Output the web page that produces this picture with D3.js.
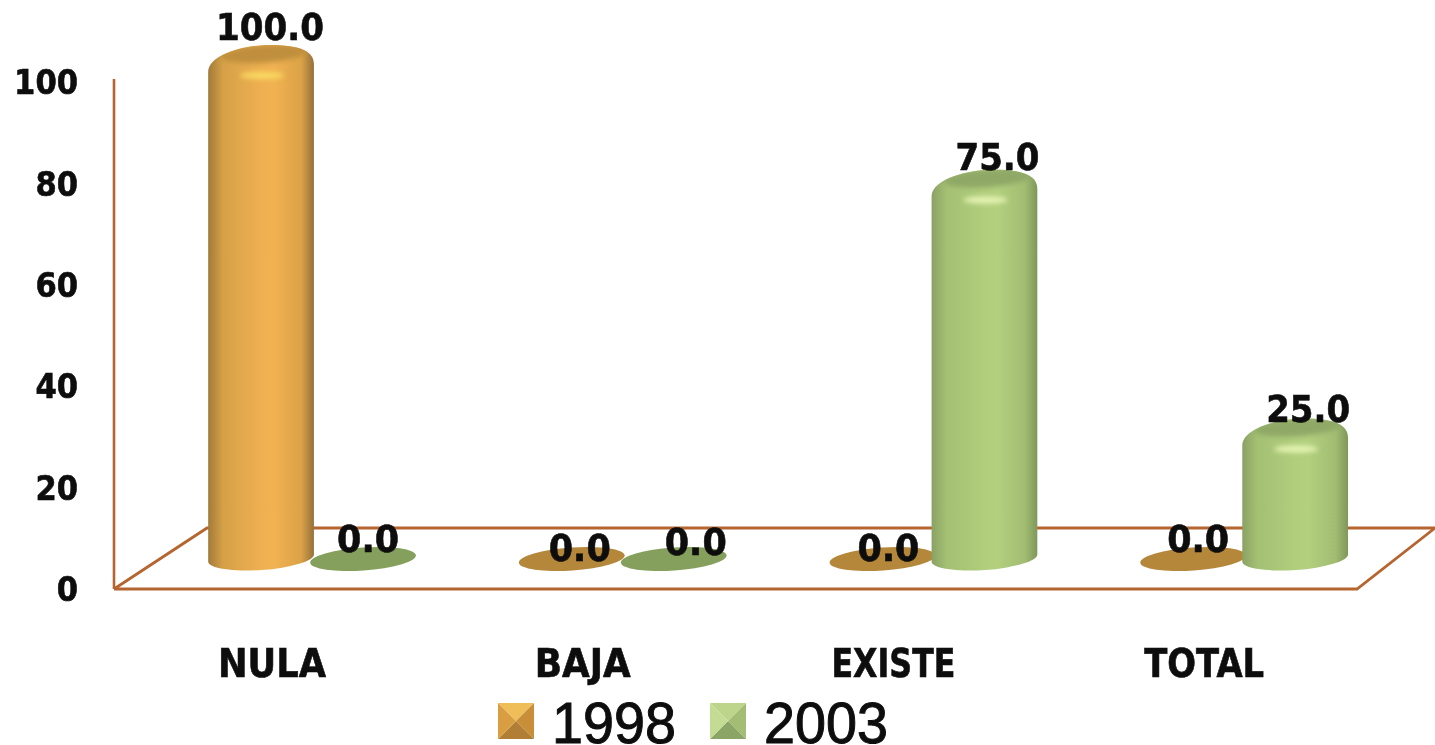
<!DOCTYPE html>
<html><head><meta charset="utf-8">
<script src="https://cdn.jsdelivr.net/npm/d3@7"></script>
<style>html,body{margin:0;padding:0;background:#fff;overflow:hidden}svg{display:block}</style>
</head><body><svg id="c" width="1435" height="745"></svg>
<script>
const categories = ["NULA","BAJA","EXISTE","TOTAL"];
const seriesNames = ["1998","2003"];
const values1998 = [100,0,0,0];
const values2003 = [0,0,75,25];
const tickValues = [0,20,40,60,80,100];

// layout nudges for the hand-placed data labels, [dx, dy] per category
const nudge1998 = [[9,-6],[8,3],[6,3],[5,-6]];
const nudge2003 = [[5,-6],[22,-3],[13,0],[13,3]];

const svg = d3.select("#c");
const defs = svg.append("defs");
const RX = 53, RYBASE = 12, ROT = -4;
const tiltX = RX*Math.cos(ROT*Math.PI/180), tiltY = RX*Math.sin(-ROT*Math.PI/180);

const pal = {
  "1998": {stops:["#a27a3a","#d6a048","#eeb051","#f1b252","#dba247","#94713a"],
           flat:"#b5873a",cap:"#c08f3c",hi:"#f9da60",leg:["#f0be58","#c98f38","#b07f35","#d99e42"]},
  "2003": {stops:["#8aa164","#a4c073","#b0ce7c","#b2d07e","#a2bd72","#80975a"],
           flat:"#85a05c",cap:"#8fa866",hi:"#e6f4b4",leg:["#bdd58a","#a3bd75","#8aa565","#c3db92"]}
};
seriesNames.forEach(s=>{
  const g = defs.append("linearGradient").attr("id","body"+s).attr("x1",0).attr("x2",1).attr("y1",0).attr("y2",0);
  [0,.14,.5,.62,.88,1].forEach((o,i)=>g.append("stop").attr("offset",o).attr("stop-color",pal[s].stops[i]));
});
const soft = defs.append("filter").attr("id","soft").attr("x","-30%").attr("y","-80%").attr("width","160%").attr("height","260%");
soft.append("feGaussianBlur").attr("stdDeviation",2.6);
defs.append("filter").attr("id","txt").append("feGaussianBlur").attr("stdDeviation",0.45);

const x0 = d3.scaleBand().domain(categories).range([156.7,1399.5]);
const x1 = d3.scalePoint().domain(seriesNames).range([-51,51]);
const yAxisScale = d3.scaleLinear().domain([0,100]).range([589.5,83]);
const yBar = d3.scaleLinear().domain([0,100]).range([558,60]);

// floor
const lineCol = "#b5652f";
const floor = d3.path();
floor.moveTo(114,589); floor.lineTo(207,528); floor.lineTo(1435,528);
floor.moveTo(1435,528); floor.lineTo(1357,589); floor.lineTo(114,589);
svg.append("path").attr("d",floor.toString()).attr("fill","none").attr("stroke",lineCol).attr("stroke-width",2.8);

const boldText = sel => sel.attr("font-family","'DejaVu Sans'").attr("font-weight","bold")
  .attr("fill","#0a0a0a").attr("stroke","#0a0a0a").attr("stroke-width",0.6)
  .attr("lengthAdjust","spacingAndGlyphs").attr("filter","url(#txt)");

// y axis
const axis = svg.append("g").attr("transform","translate(114,0)")
  .call(d3.axisLeft(yAxisScale).tickValues(tickValues).tickSize(0).tickPadding(36).tickFormat(d3.format("d")));
axis.select(".domain").remove();
axis.append("line").attr("y1",79).attr("y2",589).attr("stroke",lineCol).attr("stroke-width",2.6);
axis.selectAll("text").call(boldText).attr("font-size",34)
  .attr("textLength",d=>String(d).length*21.3);

const rows = [];
seriesNames.forEach((s,si)=>{
  const vals = si===0?values1998:values2003, nud = si===0?nudge1998:nudge2003;
  categories.forEach((c,i)=>rows.push({s,c,v:vals[i],n:nud[i],cx:x0(c)+x0.bandwidth()/2+x1(s)}));
});

const barPath = d=>{
  const t=yBar(d.v), b=yBar(0), l=d.cx-tiltX, r=d.cx+tiltX;
  return `M${l},${t+12}L${l},${b+tiltY}A${RX} ${RYBASE} ${ROT} 0 0 ${r},${b-tiltY}L${r},${t+4}`+
    `C${r},${t-8} ${r-12},${t-15} ${d.cx+8},${t-15}C${d.cx-14},${t-15} ${l},${t-6} ${l},${t+12}Z`;
};

const marks = svg.selectAll("g.mark").data(rows).join("g").attr("class","mark");
marks.filter(d=>d.v===0).append("ellipse")
  .attr("cx",d=>d.cx).attr("cy",yBar(0)+1).attr("rx",RX).attr("ry",RYBASE-0.5)
  .attr("transform",d=>`rotate(${ROT} ${d.cx} ${yBar(0)+1})`)
  .attr("fill",d=>pal[d.s].flat);
const bars = marks.filter(d=>d.v>0);
bars.each(function(d,i){
  defs.append("clipPath").attr("id",`clip${d.s}${i}`).append("path").attr("d",barPath(d));
  const g = d3.select(this);
  g.append("path").attr("fill",`url(#body${d.s})`).attr("d",barPath(d));
  const inner = g.append("g").attr("clip-path",`url(#clip${d.s}${i})`);
  inner.append("ellipse").attr("cx",d.cx+3).attr("cy",yBar(d.v)-6).attr("rx",RX-9).attr("ry",9)
    .attr("transform",`rotate(${ROT} ${d.cx} ${yBar(d.v)-6})`)
    .attr("fill",pal[d.s].cap).attr("filter","url(#soft)");
  inner.append("ellipse").attr("cx",d.cx+1).attr("cy",yBar(d.v)+15.5).attr("rx",22).attr("ry",3.6)
    .attr("fill",pal[d.s].hi).attr("filter","url(#soft)");
});

// data labels
svg.selectAll("text.dl").data(rows).join("text").attr("class","dl")
  .call(boldText)
  .attr("x",d=>d.cx+d.n[0])
  .attr("y",d=>(d.v>0?yBar(d.v)-14.5:yBar(0))+d.n[1])
  .attr("text-anchor","middle").attr("font-size",38)
  .attr("textLength",d=>d.v===100?108:(d.v>0?84:62))
  .text(d=>d.v.toFixed(1));

// category labels
svg.selectAll("text.cat").data(categories).join("text").attr("class","cat")
  .call(boldText)
  .attr("x",c=>x0(c)+x0.bandwidth()/2-40).attr("y",677).attr("text-anchor","middle")
  .attr("font-size",39)
  .attr("textLength",c=>({NULA:108,BAJA:96,EXISTE:124,TOTAL:120})[c])
  .text(c=>c);

// legend
const legX = d3.scalePoint().domain(seriesNames).range([498,710]);
const SZ = 36, legY = 703;
const leg = svg.selectAll("g.leg").data(seriesNames).join("g").attr("class","leg")
  .attr("transform",s=>`translate(${legX(s)},${legY})`);
const tri = [[[0,0],[SZ,0]],[[SZ,0],[SZ,SZ]],[[SZ,SZ],[0,SZ]],[[0,SZ],[0,0]]];
tri.forEach((t,i)=>{
  leg.append("path").attr("d",`M${t[0]}L${t[1]}L${SZ/2},${SZ/2}Z`).attr("fill",s=>pal[s].leg[i]);
});
leg.append("text").attr("x",54).attr("y",40)
  .attr("font-family","'Liberation Sans'").attr("font-size",57)
  .attr("fill","#0a0a0a").attr("stroke","#0a0a0a").attr("stroke-width",1).attr("filter","url(#txt)")
  .attr("textLength",124).attr("lengthAdjust","spacingAndGlyphs")
  .text(s=>s);
</script></body></html>
